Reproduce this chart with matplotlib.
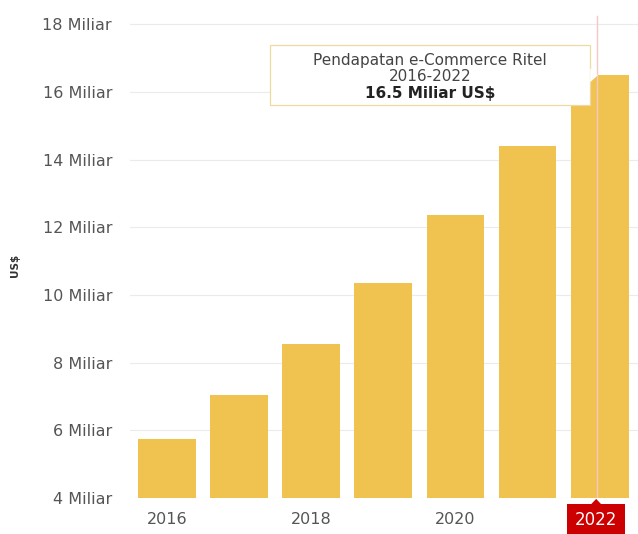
import matplotlib.pyplot as plt
from matplotlib.patches import Rectangle, Polygon
import numpy as np

years = [2016, 2017, 2018, 2019, 2020, 2021, 2022]
pendapatan = [5.75, 7.05, 8.55, 10.35, 12.35, 14.4, 16.5]  # miliar US$
y_ticks = [4, 6, 8, 10, 12, 14, 16, 18]
x_tick_years = [2016, 2018, 2020]

BAR_COLOR = '#F0C350'
GRID_COLOR = '#EBEBEB'
TEXT_COLOR = '#555555'

fig = plt.figure(figsize=(6.38, 5.34), dpi=100)
ax = fig.add_axes([0.204, 0.067, 0.796, 0.907])

x = np.arange(len(years))
ax.bar(x, pendapatan, width=0.8, color=BAR_COLOR, zorder=2)

ax.set_ylim(4, 18.3)
ax.set_xlim(-0.51, 6.53)
ax.set_yticks(y_ticks)
ax.set_yticklabels([f'{v} Miliar' for v in y_ticks], fontsize=11.5, color=TEXT_COLOR)
ax.tick_params(axis='y', length=0, pad=13)
ax.grid(axis='y', color=GRID_COLOR, linewidth=0.8, zorder=0)

ax.set_xticks([years.index(y) for y in x_tick_years])
ax.set_xticklabels([str(y) for y in x_tick_years], fontsize=11.5, color=TEXT_COLOR)
ax.tick_params(axis='x', length=0, pad=10)
for s in ax.spines.values():
    s.set_visible(False)

fig.text(0.024, 0.503, 'US$', rotation=90, fontsize=7.5, fontweight='bold',
         color='#333333', ha='center', va='center')

# garis hover + label tahun terakhir
last = len(years) - 1
ax.axvline(last - 0.04, ymin=0, ymax=0.995, color='#F3C9C4', linewidth=1, zorder=3)
ax.text(last - 0.05, 3.35, str(years[last]), fontsize=12, color='white', ha='center', va='center',
        bbox=dict(boxstyle='square,pad=0.45', facecolor='#CC0000', edgecolor='none'),
        clip_on=False, zorder=5)
ax.add_patch(Polygon([[last - 0.13, 3.8], [last + 0.03, 3.8], [last - 0.05, 3.98]],
                     closed=True, facecolor='#CC0000', edgecolor='none', clip_on=False, zorder=5))

# tooltip
fig.patches.append(Rectangle((0.423, 0.803), 0.502, 0.113, transform=fig.transFigure,
                             facecolor='white', edgecolor='#EED9A0', linewidth=0.9, zorder=6))
fig.patches.append(Polygon([[0.925, 0.872], [0.937, 0.859], [0.925, 0.846]], closed=True,
                           transform=fig.transFigure, facecolor='white', edgecolor='none', zorder=6))
fig.text(0.674, 0.886, 'Pendapatan e-Commerce Ritel', fontsize=11, color='#444444',
         ha='center', va='center', zorder=7)
fig.text(0.674, 0.856, '2016-2022', fontsize=11, color='#444444',
         ha='center', va='center', zorder=7)
fig.text(0.674, 0.825, f'{pendapatan[last]} Miliar US$', fontsize=11, fontweight='bold',
         color='#222222', ha='center', va='center', zorder=7)

fig.savefig('out.png', dpi=100)
